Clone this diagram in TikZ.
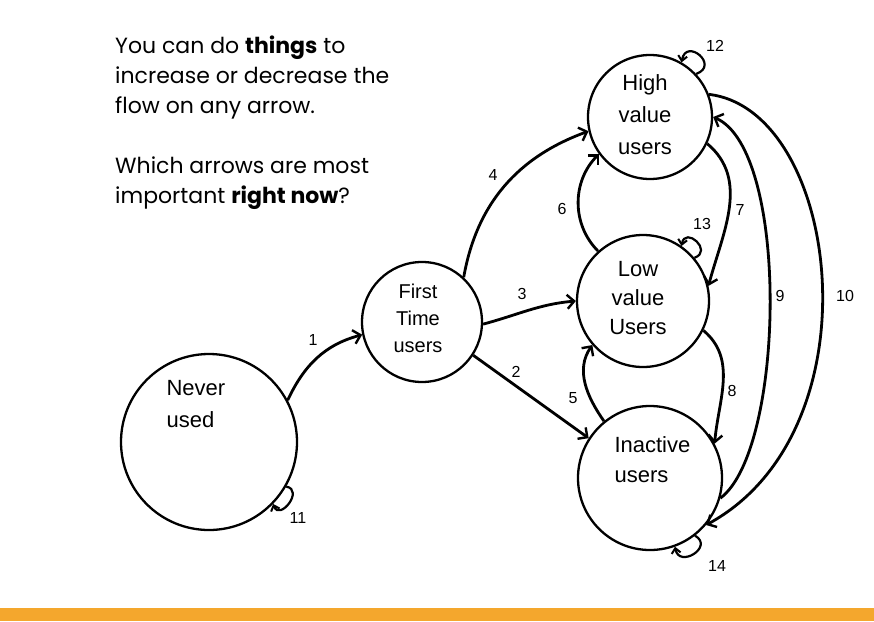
\documentclass[tikz,border=0pt]{standalone}
\usepackage{fontspec}
\setmainfont{Poppins}
\newfontfamily\hand{Liberation Sans}
\usetikzlibrary{arrows.meta}
\definecolor{barorange}{RGB}{244,167,45}
\begin{document}
\begin{tikzpicture}[x=1pt,y=1pt,
  state/.style={circle,draw,line width=2.3pt,inner sep=0pt},
  flow/.style={line width=2.8pt,-{Straight Barb[length=7pt,width=14pt,line width=2.4pt]}},
  selfloop/.style={line width=2.2pt,-{Straight Barb[length=5pt,width=9pt,line width=2pt]}},
  numlabel/.style={font=\hand\fontsize{16}{18}\selectfont},
  handtext/.style={font=\hand\fontsize{22}{30}\selectfont},
  note/.style={anchor=base west,inner sep=0pt,font=\fontsize{22}{30}\selectfont}]
\useasboundingbox (0,0) rectangle (874,-621);
\fill[white] (0,0) rectangle (874,-621);
\fill[barorange] (0,-608) rectangle (874,-621);

% explanatory text
\node[note] (t1) at (115,-53) {You can do \textbf{things} to};
\node[note] (t2) at (115,-83) {increase or decrease the};
\node[note] (t3) at (115,-113) {flow on any arrow.};
\node[note] (t4) at (115,-173) {Which arrows are most};
\node[note] (t5) at (115,-203) {important \textbf{right now}?};

% states
\node[state,minimum size=176pt] (never) at (209,-442) {};
\node[state,minimum size=120pt] (first) at (422,-322) {};
\node[state,minimum size=124pt] (high) at (650,-117) {};
\node[state,minimum size=132pt] (low) at (643,-301) {};
\node[state,minimum size=144pt] (inactive) at (650,-478) {};

% state texts
\node[handtext,align=left,anchor=west,font=\hand\fontsize{22}{32}\selectfont] (neverT) at (163,-404) {Never\\used};
\node[handtext,align=center,font=\hand\fontsize{20}{27}\selectfont] (firstT) at (418,-318) {First\\Time\\users};
\node[handtext,align=center,font=\hand\fontsize{22}{32}\selectfont] (highT) at (645,-115) {High\\value\\users};
\node[handtext,align=center,font=\hand\fontsize{22}{29}\selectfont] (lowT) at (638,-298) {Low\\value\\Users};
\node[handtext,align=left,anchor=west] (inactiveT) at (611,-460) {Inactive\\users};

% flows
\draw[flow] (never.28) to[out=65,in=195] (first.192);
\draw[flow] (first.-33) -- (inactive.147);
\draw[flow] (first.-2) to[out=15,in=185] (low.180);
\draw[flow] (first.47) to[out=80,in=200] (high.193);
\draw[flow] (inactive.129) to[out=125,in=235] (low.221);
\draw[flow] (low.132) to[out=135,in=225] (high.216);
\draw[flow] (high.-25) to[out=-40,in=75] (low.13);
\draw[flow] (low.-26) to[out=-40,in=85] (inactive.28);
\draw[flow] (inactive.-16) .. controls (785,-450) and (790,-150) .. (high.0);
\draw[flow] (high.21) .. controls (840,-110) and (880,-430) .. (inactive.-40);

% self loops
\draw[selfloop] (never.-30) to[out=-10,in=-70,looseness=2.2] (never.-44);
\draw[selfloop] (high.43) to[out=20,in=80,looseness=3.5] (high.60);
\draw[selfloop] (low.40) to[out=20,in=80,looseness=3] (low.55);
\draw[selfloop] (inactive.-52) to[out=-30,in=-80,looseness=2.5] (inactive.-70);

% flow labels
\node[numlabel] (l1) at (313,-340) {1};
\node[numlabel] (l2) at (516,-372) {2};
\node[numlabel] (l3) at (522,-294) {3};
\node[numlabel] (l4) at (493,-175) {4};
\node[numlabel] (l5) at (573,-398) {5};
\node[numlabel] (l6) at (562,-209) {6};
\node[numlabel] (l7) at (740,-210) {7};
\node[numlabel] (l8) at (732,-391) {8};
\node[numlabel] (l9) at (780,-296) {9};
\node[numlabel] (l10) at (845,-296) {10};
\node[numlabel] (l11) at (298,-518) {11};
\node[numlabel] (l12) at (715,-46) {12};
\node[numlabel] (l13) at (702,-224) {13};
\node[numlabel] (l14) at (717,-566) {14};
\end{tikzpicture}
\end{document}
